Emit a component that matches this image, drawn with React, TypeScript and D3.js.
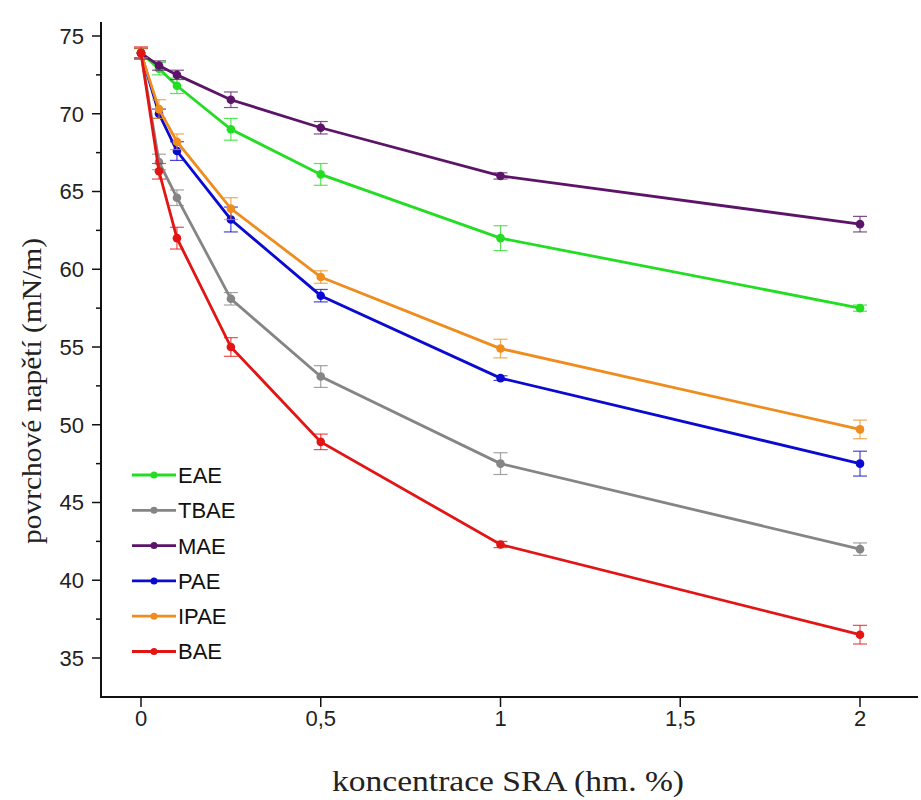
import React, { useEffect, useRef } from 'react';
import * as d3 from 'd3';

// concentrations (hm. %)
const concentrations = [0, 0.05, 0.1, 0.25, 0.5, 1, 2];

const seriesNames = ['EAE', 'TBAE', 'MAE', 'PAE', 'IPAE', 'BAE'];
const seriesColors = ['#22dd22', '#858585', '#5c1468', '#0a0ad0', '#f08c1e', '#e31414'];

// surface tension (mN/m)
const eaeValues = [73.9, 72.9, 71.8, 69.0, 66.1, 62.0, 57.5];
const tbaeValues = [73.9, 66.9, 64.6, 58.1, 53.1, 47.5, 42.0];
const maeValues = [73.9, 73.1, 72.5, 70.9, 69.1, 66.0, 62.9];
const paeValues = [73.9, 70.0, 67.6, 63.2, 58.3, 53.0, 47.5];
const ipaeValues = [73.9, 70.3, 68.2, 63.9, 59.5, 54.9, 49.7];
const baeValues = [73.9, 66.3, 62.0, 55.0, 48.9, 42.3, 36.5];

// error bars (+/-)
const eaeErrors = [0.3, 0.4, 0.5, 0.7, 0.7, 0.8, 0.2];
const tbaeErrors = [0.3, 0.5, 0.5, 0.4, 0.7, 0.7, 0.4];
const maeErrors = [0.3, 0.3, 0.3, 0.5, 0.4, 0.2, 0.5];
const paeErrors = [0.3, 0.3, 0.6, 0.8, 0.4, 0.15, 0.8];
const ipaeErrors = [0.3, 0.6, 0.5, 0.7, 0.4, 0.6, 0.6];
const baeErrors = [0.4, 0.5, 0.7, 0.6, 0.5, 0.2, 0.6];

const allValues = [eaeValues, tbaeValues, maeValues, paeValues, ipaeValues, baeValues];
const allErrors = [eaeErrors, tbaeErrors, maeErrors, paeErrors, ipaeErrors, baeErrors];

const xTicks = [0, 0.5, 1, 1.5, 2];
const yTicks = [35, 40, 45, 50, 55, 60, 65, 70, 75];

const App = () => {
    const svgRef = useRef(null);

    useEffect(() => {
        const svg = d3.select(svgRef.current);
        svg.selectAll('*').remove();

        const x = d3.scaleLinear().domain([0, 2]).range([141, 860]);
        const y = d3.scaleLinear().domain([35, 75]).range([658, 36]);

        const axisLeftX = 101;
        const axisBottomY = 697;
        const tickFont = '"Liberation Sans", Arial, sans-serif';
        const titleFont = '"Liberation Serif", "Times New Roman", serif';

        // axes lines
        svg.append('line')
            .attr('x1', axisLeftX).attr('x2', axisLeftX)
            .attr('y1', 22).attr('y2', axisBottomY + 1)
            .attr('stroke', '#111').attr('stroke-width', 2);
        svg.append('line')
            .attr('x1', axisLeftX - 1).attr('x2', 918)
            .attr('y1', axisBottomY).attr('y2', axisBottomY)
            .attr('stroke', '#111').attr('stroke-width', 2);

        // y ticks (major + minor)
        const yMinor = d3.range(37.5, 75, 5);
        svg.append('g').selectAll('line.minor')
            .data(yMinor)
            .enter().append('line')
            .attr('x1', axisLeftX - 5).attr('x2', axisLeftX)
            .attr('y1', d => y(d)).attr('y2', d => y(d))
            .attr('stroke', '#111').attr('stroke-width', 1.5);
        const yt = svg.append('g');
        yt.selectAll('line')
            .data(yTicks)
            .enter().append('line')
            .attr('x1', axisLeftX - 9).attr('x2', axisLeftX)
            .attr('y1', d => y(d)).attr('y2', d => y(d))
            .attr('stroke', '#111').attr('stroke-width', 1.5);
        yt.selectAll('text')
            .data(yTicks)
            .enter().append('text')
            .attr('x', axisLeftX - 17)
            .attr('y', d => y(d))
            .attr('dy', '0.36em')
            .attr('text-anchor', 'end')
            .attr('font-family', tickFont)
            .attr('font-size', 22)
            .attr('fill', '#222')
            .text(d => d);

        // x ticks
        const xt = svg.append('g');
        xt.selectAll('line')
            .data(xTicks)
            .enter().append('line')
            .attr('x1', d => x(d)).attr('x2', d => x(d))
            .attr('y1', axisBottomY).attr('y2', axisBottomY + 10)
            .attr('stroke', '#111').attr('stroke-width', 1.5);
        xt.selectAll('text')
            .data(xTicks)
            .enter().append('text')
            .attr('x', d => x(d))
            .attr('y', 726)
            .attr('text-anchor', 'middle')
            .attr('font-family', tickFont)
            .attr('font-size', 22)
            .attr('fill', '#222')
            .text(d => String(d).replace('.', ','));

        // axis titles
        svg.append('text')
            .attr('x', 508).attr('y', 791)
            .attr('text-anchor', 'middle')
            .attr('font-family', titleFont)
            .attr('font-size', 29)
            .attr('textLength', 352)
            .attr('lengthAdjust', 'spacingAndGlyphs')
            .attr('fill', '#222')
            .text('koncentrace SRA (hm. %)');
        svg.append('text')
            .attr('transform', 'translate(41,391) rotate(-90)')
            .attr('text-anchor', 'middle')
            .attr('font-family', titleFont)
            .attr('font-size', 28)
            .attr('textLength', 306)
            .attr('lengthAdjust', 'spacingAndGlyphs')
            .attr('fill', '#222')
            .text('povrchové napětí (mN/m)');

        const line = d3.line()
            .x(d => x(d[0]))
            .y(d => y(d[1]));

        // series (drawn so red ends on top)
        seriesNames.forEach((name, i) => {
            const color = seriesColors[i];
            const pts = concentrations.map((c, j) => [c, allValues[i][j], allErrors[i][j]]);
            const g = svg.append('g');

            g.selectAll('line.err')
                .data(pts)
                .enter().append('line')
                .attr('x1', d => x(d[0])).attr('x2', d => x(d[0]))
                .attr('y1', d => y(d[1] - d[2])).attr('y2', d => y(d[1] + d[2]))
                .attr('stroke', color).attr('stroke-width', 1.2).attr('opacity', 0.75);
            [-1, 1].forEach(s => {
                g.selectAll(null)
                    .data(pts)
                    .enter().append('line')
                    .attr('x1', d => x(d[0]) - 7).attr('x2', d => x(d[0]) + 7)
                    .attr('y1', d => y(d[1] + s * d[2])).attr('y2', d => y(d[1] + s * d[2]))
                    .attr('stroke', color).attr('stroke-width', 1.2).attr('opacity', 0.75);
            });

            g.append('path')
                .datum(pts)
                .attr('fill', 'none')
                .attr('stroke', color)
                .attr('stroke-width', 2.8)
                .attr('d', line);

            g.selectAll('circle')
                .data(pts)
                .enter().append('circle')
                .attr('cx', d => x(d[0]))
                .attr('cy', d => y(d[1]))
                .attr('r', 4.3)
                .attr('fill', color);
        });

        // legend
        const lg = svg.append('g');
        seriesNames.forEach((name, i) => {
            const ly = 475 + i * 35.3;
            lg.append('line')
                .attr('x1', 132).attr('x2', 176)
                .attr('y1', ly).attr('y2', ly)
                .attr('stroke', seriesColors[i]).attr('stroke-width', 2.8);
            lg.append('circle')
                .attr('cx', 154).attr('cy', ly).attr('r', 3.5)
                .attr('fill', seriesColors[i]);
            lg.append('text')
                .attr('x', 178).attr('y', ly)
                .attr('dy', '0.36em')
                .attr('font-family', tickFont)
                .attr('font-size', 22)
                .attr('fill', '#111')
                .text(name);
        });
    }, []);

    return (
        <div style={{ position: 'absolute', left: 0, top: 0, background: '#fff' }}>
            <svg ref={svgRef} width={921} height={800} style={{ display: 'block' }}></svg>
        </div>
    );
};

export default App;
